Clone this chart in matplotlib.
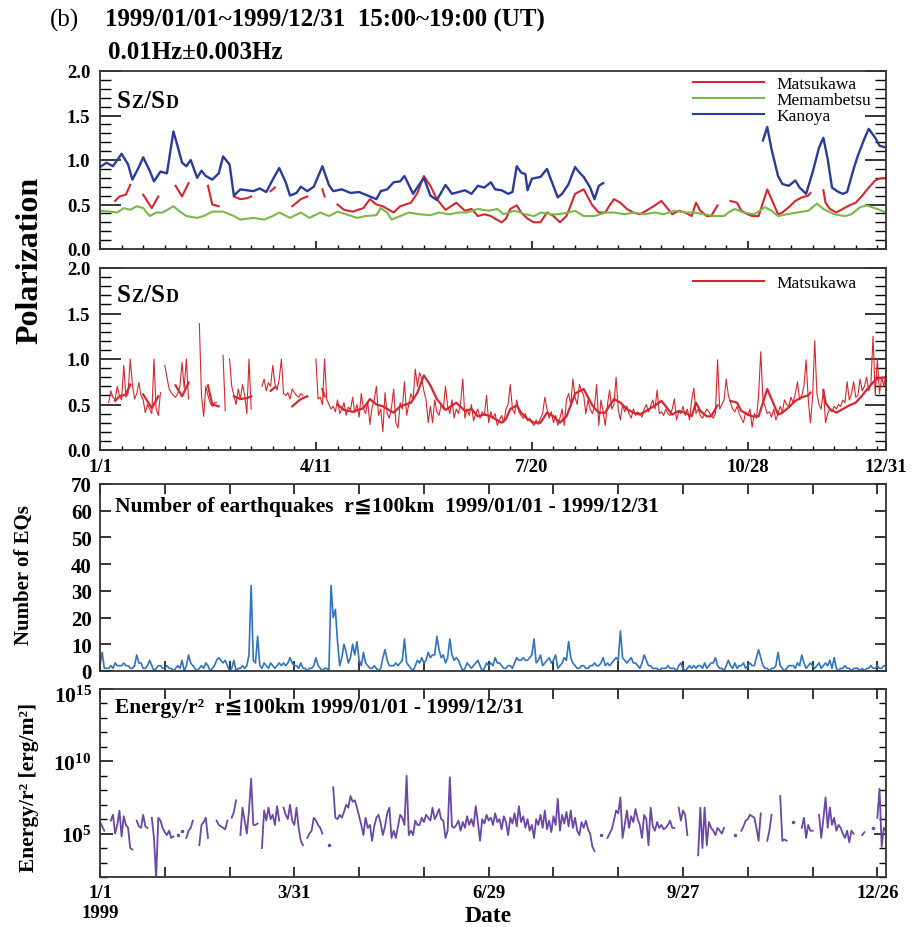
import numpy as np
import matplotlib
matplotlib.use("Agg")
import matplotlib.pyplot as plt
from matplotlib.lines import Line2D
from matplotlib.transforms import offset_copy
from matplotlib.ticker import FixedLocator, NullFormatter, FuncFormatter

nan = np.nan

# ---------------- data ----------------
# Panel 1: running-mean polarization (day of year, value)
kanoya_days = [0, 3, 6, 10, 13, 15, 18, 20, 23, 25, 28, 31, 34, 36, 38, 40, 42, 45, 47, 49, 52, 55, 57, 60,
               62, 65, 68, 71, 74, 77, 80, 83, 86, 88, 91, 93, 96, 99, 103, 106, 108, 112, 116, 120, 124,
               128, 130, 133, 136, 139, 141, 143, 145, 148, 150, 153, 156, 160, 163, 166, 169, 172, 175,
               178, 181, 183, 186, 189, 191, 193, 195, 197, 198, 200, 204, 207, 209, 212, 214, 217, 220,
               222, 224, 227, 229, 231, 233, 234, 307, 309, 311, 314, 316, 319, 322, 324, 327, 330, 333,
               335, 337, 339, 342, 344, 346, 349, 351, 354, 356, 359, 361, 364]
kanoya_vals = [0.92, 0.97, 0.93, 1.07, 0.95, 0.78, 0.92, 1.03, 0.88, 0.76, 0.87, 0.85, 1.32, 1.15, 0.97, 0.93,
               1.00, 0.80, 0.88, 0.82, 0.78, 0.85, 1.04, 0.95, 0.60, 0.67, 0.66, 0.65, 0.68, 0.64, 0.78, 0.91,
               0.75, 0.60, 0.63, 0.70, 0.65, 0.70, 0.93, 0.72, 0.65, 0.67, 0.63, 0.64, 0.60, 0.56, 0.65, 0.67,
               0.75, 0.76, 0.82, 0.72, 0.62, 0.73, 0.80, 0.60, 0.55, 0.72, 0.62, 0.64, 0.66, 0.62, 0.71, 0.69,
               0.75, 0.67, 0.66, 0.62, 0.64, 0.93, 0.86, 0.84, 0.66, 0.79, 0.81, 0.90, 0.77, 0.58, 0.62, 0.73,
               0.92, 0.86, 0.81, 0.69, 0.56, 0.71, 0.74, nan, 1.22, 1.37, 1.12, 0.82, 0.73, 0.71, 0.77, 0.69,
               0.62, 0.86, 1.14, 1.25, 1.01, 0.69, 0.64, 0.62, 0.64, 0.90, 1.05, 1.24, 1.35, 1.25, 1.16, 1.14]

matsu_days = [7, 9, 12, 14, 17, 20, 24, 27, 30, 35, 38, 41, 45, 50, 52, 55, 58, 62, 65, 68, 70, 74, 79, 81, 85,
              89, 93, 96, 99, 103, 104, 107, 110, 113, 117, 122, 125, 128, 131, 136, 139, 144, 147, 150, 153,
              156, 160, 165, 169, 172, 175, 178, 181, 183, 186, 188, 190, 193, 195, 198, 201, 204, 207, 210,
              213, 216, 218, 220, 224, 226, 228, 231, 234, 236, 238, 241, 244, 247, 250, 253, 257, 260, 263,
              265, 268, 271, 274, 276, 278, 281, 283, 286, 289, 292, 295, 297, 300, 302, 305, 307, 309, 311,
              314, 316, 319, 322, 325, 328, 329, 332, 335, 336, 338, 341, 344, 347, 350, 353, 356, 359, 361, 364]
matsu_vals = [0.54, 0.59, 0.61, 0.72, nan, 0.61, 0.46, 0.59, nan, 0.71, 0.59, 0.74, nan, 0.71, 0.50, 0.48, nan,
              0.59, 0.56, 0.57, 0.59, nan, 0.65, 0.69, nan, 0.48, 0.56, 0.59, nan, 0.67, 0.59, nan,
              0.50, 0.44, 0.42, 0.46, 0.56, 0.50, 0.48, 0.41, 0.48, 0.52, 0.63, 0.82, 0.71, 0.56, 0.44, 0.52,
              0.43, 0.45, 0.37, 0.39, 0.37, 0.34, 0.30, 0.34, 0.45, 0.49, 0.41, 0.34, 0.30, 0.30, 0.41, 0.37,
              0.30, 0.37, 0.49, 0.62, 0.67, 0.58, 0.49, 0.41, 0.41, 0.49, 0.56, 0.52, 0.45, 0.41, 0.39, 0.43,
              0.49, 0.54, 0.45, 0.39, 0.43, 0.41, 0.37, 0.52, 0.43, 0.37, 0.37, 0.49, nan, 0.54, 0.52, 0.43,
              0.39, 0.37, 0.37, 0.52, 0.67, 0.56, 0.39, 0.41, 0.47, 0.54, 0.58, 0.60, 0.63, nan, 0.66, 0.52,
              0.45, 0.41, 0.45, 0.49, 0.52, 0.60, 0.69, 0.77, 0.79, 0.80]

memam_days = [0, 5, 8, 11, 14, 17, 20, 23, 26, 29, 34, 37, 40, 45, 48, 52, 57, 62, 65, 71, 76, 80, 83, 88, 93,
              97, 102, 106, 110, 114, 119, 123, 128, 130, 133, 135, 139, 143, 148, 153, 157, 162, 166, 170,
              175, 180, 184, 187, 192, 197, 201, 204, 209, 212, 217, 220, 224, 229, 234, 238, 243, 247, 252,
              257, 261, 266, 271, 275, 280, 284, 289, 291, 294, 298, 303, 308, 311, 314, 318, 323, 328, 332,
              335, 340, 345, 348, 352, 355, 360, 364]
memam_vals = [0.43, 0.42, 0.41, 0.46, 0.44, 0.48, 0.46, 0.37, 0.41, 0.41, 0.48, 0.42, 0.37, 0.35, 0.37, 0.42,
              0.42, 0.37, 0.33, 0.35, 0.33, 0.37, 0.41, 0.35, 0.41, 0.35, 0.41, 0.37, 0.42, 0.39, 0.35, 0.37,
              0.38, 0.46, 0.41, 0.33, 0.37, 0.41, 0.39, 0.38, 0.41, 0.39, 0.41, 0.41, 0.45, 0.43, 0.45, 0.39,
              0.43, 0.39, 0.37, 0.41, 0.39, 0.39, 0.41, 0.43, 0.37, 0.37, 0.41, 0.41, 0.39, 0.41, 0.39, 0.41,
              0.39, 0.43, 0.41, 0.41, 0.39, 0.37, 0.37, 0.41, 0.45, 0.41, 0.39, 0.47, 0.43, 0.37, 0.39, 0.41,
              0.43, 0.51, 0.45, 0.39, 0.37, 0.39, 0.47, 0.49, 0.45, 0.41]

# Panel 2: daily Matsukawa polarization (day 0 .. 364)
matsu_daily = [
    nan, nan, nan, nan, 0.52, 0.65, 0.58, 0.55, 0.70, 0.60,
    0.55, 0.93, 0.58, 0.62, 1.00, 0.72, 0.56, 0.62, 0.74, 0.60,
    0.55, 0.41, 0.50, 0.45, 0.40, 1.00, 0.45, 0.38, 0.63, nan,
    0.93, 0.80, 0.67, 0.63, 0.60, 0.58, 0.62, 0.70, 0.96, 0.68,
    1.00, 0.56, nan, nan, nan, nan, 1.39, 0.60, 0.37, 0.70,
    0.60, 0.52, 0.48, 0.52, 0.52, nan, nan, 1.04, 0.43, nan,
    1.00, 0.70, 0.60, 0.50, 0.67, 0.56, 0.72, 0.60, 0.40, 1.00,
    0.45, nan, nan, nan, nan, 0.70, 0.78, 0.65, 0.74, 0.70,
    0.93, 0.73, 0.66, 0.78, 1.00, 0.62, 0.60, 0.63, 0.56, 0.67,
    0.63, 0.60, 0.58, 0.62, 0.60, nan, nan, nan, nan, nan,
    1.00, 0.56, 0.58, 0.50, 1.00, 0.56, 0.50, 0.45,
    0.48, 0.42, 0.55, 0.40, 0.45, 0.52, 0.38, 0.47, 0.44, 0.58,
    0.41, 0.50, 0.36, 0.62, 0.45, 0.40, 0.53, 0.28, 0.47, 0.55,
    0.70, 0.38, 0.45, 0.20, 0.63, 0.40, 0.35, 0.47, 0.67, 0.30,
    0.24, 0.52, 0.45, 0.75, 0.38, 0.50, 0.62, 0.55, 0.89, 0.70,
    0.85, 0.78, 0.65, 0.55, 0.30, 0.48, 0.30, 0.55, 0.42, 0.38,
    0.50, 0.45, 0.70, 0.48, 0.40, 0.55, 0.35, 0.45, 0.40, 0.52,
    0.78, 0.35, 0.45, 0.38, 0.50, 0.32, 0.40, 0.45, 0.35, 0.42,
    0.38, 0.60, 0.30, 0.42, 0.35, 0.40, 0.27, 0.33, 0.38, 0.30,
    0.45, 0.50, 0.72, 0.45, 0.40, 0.55, 0.42, 0.38, 0.35, 0.40,
    0.32, 0.35, 0.30, 0.27, 0.33, 0.28, 0.35, 0.40, 0.58, 0.45,
    0.35, 0.42, 0.30, 0.38, 0.27, 0.35, 0.45, 0.27, 0.55, 0.62,
    0.50, 0.78, 0.58, 0.50, 0.72, 0.65, 0.60, 0.40, 0.55, 0.45,
    0.40, 0.48, 0.72, 0.27, 0.55, 0.42, 0.27, 0.50, 0.66, 0.45,
    0.50, 0.80, 0.45, 0.33, 0.50, 0.42, 0.48, 0.40, 0.35, 0.45,
    0.38, 0.42, 0.40, 0.36, 0.45, 0.50, 0.42, 0.48, 0.55, 0.45,
    0.66, 0.40, 0.42, 0.38, 0.45, 0.40, 0.38, 0.45, 0.56, 0.33,
    0.42, 0.40, 0.48, 0.38, 0.45, 0.33, 0.55, 0.68, 0.40, 0.45,
    0.38, 0.35, 0.40, 0.45, 0.42, 0.38, 0.35, 0.40, 0.99, 0.45,
    0.50, 0.55, 0.78, 0.60, 0.52, 0.45, 0.42, 0.48, 0.40, 0.35,
    0.30, 0.42, 0.38, 0.45, 0.25, 0.40, 0.35, 0.60, 1.08, 0.55,
    0.48, 0.40, 0.42, 0.36, 0.45, 0.33, 0.40, 0.48, 0.42, 0.55,
    0.50, 0.48, 0.58, 0.52, 0.62, 0.75, 0.55, 0.60, 0.70, 0.99,
    0.55, 0.30, 0.58, 1.20, 0.62, 0.50, 0.45, 0.66, 0.30, 0.40,
    0.45, 0.42, 0.48, 0.45, 0.50, 0.48, 0.55, 0.52, 0.75, 0.55,
    0.62, 0.75, 0.58, 0.60, 0.78, 0.65, 0.70, 0.80, 0.65, 0.72,
    1.25, 0.60, 1.00, 0.62, 0.80, 0.70, 0.85]

# Panel 3: daily number of earthquakes (r <= 100 km)
eq_counts = [
    2, 7, 1, 1, 1, 2, 1, 3, 2, 2,   2, 3, 2, 2, 1, 1, 2, 6, 3, 3,
    1, 1, 2, 4, 2, 0, 1, 2, 2, 1,   1, 2, 1, 1, 0, 1, 2, 1, 4, 0,
    2, 6, 3, 2, 1, 0, 1, 2, 1, 3,   2, 0, 1, 2, 4, 5, 4, 3, 4, 2,
    0, 1, 4, 0, 1, 1, 2, 1, 2, 6,   32, 4, 3, 13, 2, 1, 3, 2, 1, 3,
    2, 1, 2, 3, 2, 3, 2, 3, 5, 3,   2, 2, 1, 3, 1, 1, 0, 1, 1, 2,
    5, 2, 1, 0, 1, 1, 0, 32, 20, 23,   11, 2, 5, 10, 7, 3, 5, 10, 6, 11,
    4, 2, 7, 3, 2, 1, 1, 2, 1, 0,   1, 5, 8, 4, 2, 2, 2, 3, 2, 3,
    4, 12, 3, 2, 1, 0, 2, 4, 3, 5,   3, 4, 7, 5, 6, 6, 13, 8, 5, 6,
    3, 5, 12, 6, 4, 5, 4, 2, 0, 1,   3, 2, 1, 2, 3, 4, 2, 0, 1, 3,
    2, 3, 2, 5, 3, 3, 2, 1, 1, 2,   2, 1, 3, 5, 4, 4, 5, 4, 4, 5,
    6, 12, 3, 4, 6, 2, 3, 4, 5, 3,   4, 6, 1, 2, 3, 5, 4, 11, 5, 3,
    2, 1, 1, 2, 2, 1, 1, 2, 2, 3,   2, 2, 3, 5, 2, 3, 2, 3, 4, 5,
    4, 15, 5, 4, 3, 4, 5, 3, 3, 2,   1, 3, 6, 4, 2, 2, 1, 1, 1, 0,
    1, 1, 1, 2, 1, 1, 1, 0, 2, 3,   1, 0, 1, 2, 1, 2, 1, 2, 2, 1,
    3, 1, 2, 3, 3, 5, 2, 1, 1, 0,   2, 4, 2, 1, 3, 1, 2, 2, 3, 1,
    2, 3, 2, 2, 5, 8, 5, 2, 1, 1,   0, 1, 1, 2, 7, 2, 1, 0, 1, 2,
    2, 2, 1, 3, 2, 6, 3, 1, 2, 3,   2, 1, 2, 3, 1, 2, 3, 2, 4, 1,
    5, 1, 0, 1, 1, 2, 1, 1, 0, 1,   1, 1, 0, 1, 0, 1, 1, 2, 1, 1,
    2, 1, 1, 2, 2]

# Panel 4: daily log10(Energy/r^2) [erg/m^2]
energy_log10 = [
    5.8, 5.5, 5.2, nan, nan, 5.9, 6.3, 5.0, 5.6, 6.6,   4.8, 6.2, 5.6, 5.4, 4.0, 3.9, nan, 5.9, 5.5, 5.4,
    6.3, 5.5, 5.4, nan, 6.1, 4.7, 1.9, 6.1, 5.9, 5.4,   5.1, 4.9, 5.2, 4.7, 4.8, nan, 4.9, nan, 5.2, nan,
    4.7, 5.2, 5.4, 5.9, nan, nan, 4.2, 5.6, 5.8, 6.1,   4.7, nan, nan, nan, 5.9, 5.6, 5.5, 5.4, 5.3, 5.9,
    nan, 6.1, 6.5, 7.3, nan, 4.9, 6.8, 5.9, 5.0, 6.6,   8.8, 5.6, 5.6, 5.7, nan, 4.0, 6.6, 5.9, 6.8, 6.0,
    6.3, 5.6, 6.9, 5.9, nan, 6.8, 6.3, 6.0, 7.0, 5.9,   5.6, 6.8, 5.4, 4.5, 4.2, nan, 4.7, 5.0, 5.2, 6.1,
    5.9, 5.6, 5.4, 5.0, nan, nan, 4.2, nan, 8.2, 6.1,   6.0, 6.3, 6.1, 6.5, 7.0, 6.8, 7.6, 7.2, 7.3, 6.8,
    6.2, 5.6, 4.9, 6.1, 5.4, 5.6, 4.5, 5.5, 6.1, 6.3,   5.7, 4.9, 5.5, 6.4, 6.8, 4.7, 5.2, 4.7, 5.5, 6.3,
    6.1, 5.6, 9.0, 4.9, 5.2, 4.9, 5.9, 5.6, 5.6, 6.1,   5.8, 6.3, 6.1, 5.9, 6.8, 6.0, 6.3, 6.7, 6.0, 5.9,
    4.7, 5.2, 8.9, 5.5, 5.4, 5.6, 5.9, 5.2, 5.8, 5.4,   6.2, 5.6, 6.0, 5.5, 6.9, 5.8, 4.5, 6.0, 5.7, 6.3,
    5.9, 6.1, 5.6, 6.4, 5.8, 6.0, 5.3, 6.2, 5.8, 4.9,   6.1, 5.7, 6.4, 5.5, 6.9, 5.8, 6.2, 5.4, 6.0, 5.2,
    5.6, 4.7, 6.0, 5.6, 6.3, 5.4, 6.6, 5.3, 5.9, 5.1,   6.2, 5.6, 7.4, 5.2, 6.3, 5.7, 6.5, 5.5, 6.6, 5.4,
    6.1, 5.2, 4.9, 5.8, 5.4, 5.9, 5.3, 5.0, 4.1, 3.8,   nan, nan, 4.9, nan, nan, 4.7, 5.0, 5.3, 5.9, 6.6,
    6.4, 7.5, 4.7, 5.6, 6.6, 5.4, 6.2, 5.8, 6.7, 6.0,   5.6, 4.7, 6.3, 6.0, 4.2, 6.8, 5.5, 5.2, 5.8, 5.4,
    5.6, 5.3, 5.4, 5.6, 5.9, 5.4, 5.4, nan, 6.8, 5.9,   6.6, 6.3, 4.9, nan, nan, nan, nan, 3.5, 6.8, 4.0,
    6.8, 4.2, 5.8, 5.4, 5.2, 4.9, 5.4, 5.2, 5.0, 5.4,   nan, nan, nan, nan, 4.9, nan, nan, 5.2, 5.5, 5.9,
    6.0, 6.3, 6.2, 6.1, 5.4, 4.5, 6.4, nan, nan, 4.5,   5.2, 6.3, nan, nan, nan, 7.6, 4.5, 4.6, 4.5, nan,
    nan, 5.8, nan, nan, nan, 5.4, 6.1, 4.7, 5.6, 5.2,   5.2, nan, nan, 6.3, 4.7, 6.0, 7.5, 5.4, 6.8, 5.6,
    6.1, 5.2, 5.6, 5.4, 5.0, 4.7, 5.2, 4.4, 5.2, 5.0,   nan, nan, nan, 4.9, 5.1, nan, nan, nan, 5.4, nan,
    6.1, 8.1, 4.1, 5.4, 5.2]

pol_tick_days = [0, 100, 200, 300, 364]
pol_tick_labels = ["1/1", "4/11", "7/20", "10/28", "12/31"]
eq_tick_days = list(range(0, 361, 30))
eq_tick_labels = ["1/1\n1999", "", "", "3/31", "", "", "6/29", "", "", "9/27", "", "", "12/26"]
energy_major_exps = [5, 10, 15]

# ---------------- style ----------------
SERIF = ["Liberation Serif", "DejaVu Serif", "DejaVu Sans"]
plt.rcParams["font.family"] = SERIF
plt.rcParams["mathtext.fontset"] = "custom"
plt.rcParams["mathtext.rm"] = "Liberation Serif:bold"
plt.rcParams["mathtext.bf"] = "Liberation Serif:bold"
plt.rcParams["mathtext.it"] = "Liberation Serif:bold:italic"

RED = "#d6272e"
GREEN = "#79b84a"
BLUE = "#2b3b9c"
EQBLUE = "#2f74c2"
PURPLE = "#6a47a8"
TICK_FS = 13.5

W, H = 916, 928
fig = plt.figure(figsize=(W / 100, H / 100), dpi=100)


def ax_rect(left, top, right, bottom):
    return [left / W, 1 - bottom / H, (right - left) / W, (bottom - top) / H]


ax1 = fig.add_axes(ax_rect(100, 72, 886, 250))
ax2 = fig.add_axes(ax_rect(100, 269, 886, 451))
ax3 = fig.add_axes(ax_rect(100, 485, 886, 672))
ax4 = fig.add_axes(ax_rect(100, 690, 886, 878))

for ax in (ax1, ax2, ax3, ax4):
    for s in ax.spines.values():
        s.set_linewidth(1.3)
        s.set_color("#333333")
    ax.set_xlim(0, 364)

days = np.arange(365)

# ---- panel 1 ----
ax1.plot(matsu_days, matsu_vals, color=RED, lw=1.5)
ax1.plot(memam_days, memam_vals, color=GREEN, lw=1.5)
ax1.plot(kanoya_days, kanoya_vals, color=BLUE, lw=1.7)

# ---- panel 2 ----
md = np.array(matsu_daily, dtype=float)
ax2.plot(days, md, color=RED, lw=0.8)
iso = np.isfinite(md) & ~np.isfinite(np.r_[nan, md[:-1]]) & ~np.isfinite(np.r_[md[1:], nan])
ax2.plot(days[iso], md[iso], ".", color=RED, ms=2)
ax2.plot(matsu_days, matsu_vals, color=RED, lw=1.6)

for ax in (ax1, ax2):
    ax.set_ylim(0, 2.0)
    ax.yaxis.set_major_locator(FixedLocator([0, 0.5, 1.0, 1.5, 2.0]))
    ax.yaxis.set_minor_locator(FixedLocator(np.arange(0, 2.01, 0.1)))
    ax.yaxis.set_major_formatter(FuncFormatter(lambda v, p: f"{v:.1f}"))
    ax.xaxis.set_major_locator(FixedLocator(pol_tick_days))
    ax.xaxis.set_minor_locator(FixedLocator(np.arange(10, 364, 10)))
    ax.tick_params(axis="y", which="major", direction="in", length=15, width=1.1,
                   left=True, right=True, labelsize=TICK_FS, pad=7)
    ax.tick_params(axis="y", which="minor", direction="in", length=8, width=1.0,
                   left=True, right=True)
    ax.tick_params(axis="x", which="major", direction="in", length=6, width=1.1,
                   bottom=True, top=False, labelsize=TICK_FS, pad=6)
    ax.tick_params(axis="x", which="minor", direction="in", length=3, width=1.0,
                   bottom=True, top=False)
    for lab in ax.get_yticklabels():
        lab.set_fontweight("bold")

ax1.set_xticklabels([])
ax2.set_xticklabels(pol_tick_labels, fontweight="bold")

leg_font = {"family": SERIF, "size": 12.5}
h1 = [Line2D([], [], color=c, lw=1.5) for c in (RED, GREEN, BLUE)]
ax1.legend(h1, ["Matsukawa", "Memambetsu", "Kanoya"], loc="upper left",
           bbox_to_anchor=(0.754, 0.975), frameon=False, handlelength=4.1, handletextpad=0.7,
           labelspacing=0.0, borderpad=0, borderaxespad=0, prop=leg_font)
ax2.legend([Line2D([], [], color=RED, lw=1.5)], ["Matsukawa"], loc="upper left",
           bbox_to_anchor=(0.754, 0.96), frameon=False, handlelength=4.1, handletextpad=0.7,
           borderpad=0, borderaxespad=0, prop=leg_font)


# Sz/SD label with small caps
def sz_sd(ax, x, y):
    renderer = fig.canvas.get_renderer()
    parts = [("S", 18), ("Z", 13), ("/", 18), ("S", 18), ("D", 13)]
    dx = 0.0
    for txt, fs in parts:
        tr = offset_copy(ax.transAxes, fig=fig, x=dx, y=0, units="dots")
        t = ax.text(x, y, txt, transform=tr, fontsize=fs, fontweight="bold",
                    va="baseline", ha="left", family=SERIF)
        dx += t.get_window_extent(renderer).width + 0.5


sz_sd(ax1, 0.021, 0.798)
sz_sd(ax2, 0.021, 0.819)

# ---- panel 3 ----
ax3.plot(days, eq_counts, color=EQBLUE, lw=1.2)
ax3.set_ylim(0, 70)
ax3.yaxis.set_major_locator(FixedLocator(range(0, 71, 10)))
ax3.xaxis.set_major_locator(FixedLocator(eq_tick_days))
ax3.tick_params(axis="y", direction="in", length=8, width=1.1, left=True, right=True,
                labelsize=TICK_FS + 1.5, pad=6)
ax3.tick_params(axis="x", direction="in", length=7, width=1.1, top=True, bottom=True,
                labelbottom=False)
for lab in ax3.get_yticklabels():
    lab.set_fontweight("bold")
ax3.text(0.019, 0.856, "Number of earthquakes  r\u2266100km  1999/01/01 - 1999/12/31",
         transform=ax3.transAxes, fontsize=15.5, fontweight="bold", va="baseline", family=SERIF)

# ---- panel 4 ----
el = np.array(energy_log10, dtype=float)
ev = 10.0 ** el
ax4.plot(days, ev, color=PURPLE, lw=1.3)
iso4 = np.isfinite(el) & ~np.isfinite(np.r_[nan, el[:-1]]) & ~np.isfinite(np.r_[el[1:], nan])
ax4.plot(days[iso4], ev[iso4], ".", color=PURPLE, ms=3)
ax4.set_yscale("log")
ax4.set_ylim(1e2, 1e15)
ax4.yaxis.set_major_locator(FixedLocator([10.0 ** e for e in energy_major_exps]))
ax4.yaxis.set_minor_locator(FixedLocator([10.0 ** k for k in range(2, 16)]))
ax4.yaxis.set_minor_formatter(NullFormatter())
top_exp = max(energy_major_exps)


def energy_fmt(v, p):
    e = int(round(np.log10(v)))
    return "" if e == top_exp else r"$\mathrm{10^{%d}}$" % e


ax4.yaxis.set_major_formatter(FuncFormatter(energy_fmt))
# top label placed just below the axis top (as in the original) to keep it clear of panel 3
ax4.text(0, 1.0, r"$\mathrm{10^{%d}}$" % top_exp,
         transform=offset_copy(ax4.transAxes, fig=fig, x=-8, y=3, units="dots"),
         ha="right", va="top", fontsize=TICK_FS + 2)
ax4.xaxis.set_major_locator(FixedLocator(eq_tick_days))
ax4.set_xticklabels(eq_tick_labels, fontweight="bold", fontsize=TICK_FS)
ax4.tick_params(axis="y", which="major", direction="in", length=9, width=1.1, left=True,
                right=True, labelsize=TICK_FS + 2, pad=6)
ax4.tick_params(axis="y", which="minor", direction="in", length=5, width=1.0, left=True, right=True)
ax4.tick_params(axis="x", direction="in", length=7, width=1.1, top=True, bottom=True, pad=5)
ax4.text(0.019, 0.878, "Energy/r\u00b2  r\u2266100km 1999/01/01 - 1999/12/31",
         transform=ax4.transAxes, fontsize=15.5, fontweight="bold", va="baseline", family=SERIF)

# ---- figure texts ----
fig.text(50 / W, 1 - 27 / H, "(b)", fontsize=18, va="baseline", ha="left", family=SERIF)
fig.text(105 / W, 1 - 27 / H, "1999/01/01~1999/12/31  15:00~19:00 (UT)", fontsize=18,
         fontweight="bold", va="baseline", ha="left", family=SERIF)
fig.text(108 / W, 1 - 59 / H, "0.01Hz\u00b10.003Hz", fontsize=18, fontweight="bold",
         va="baseline", ha="left", family=SERIF)
fig.text(30 / W, 1 - 260 / H, "Polarization", fontsize=23, fontweight="bold", rotation=90,
         ha="center", va="center", family=SERIF)
fig.text(24 / W, 1 - 575 / H, "Number of EQs", fontsize=15, fontweight="bold", rotation=90,
         ha="center", va="center", family=SERIF)
fig.text(29 / W, 1 - 787 / H, "Energy/r\u00b2 [erg/m\u00b2]", fontsize=15.5, fontweight="bold",
         rotation=90, ha="center", va="center", family=SERIF)
fig.text(488 / W, 1 - 922 / H, "Date", fontsize=17, fontweight="bold", ha="center",
         va="baseline", family=SERIF)

fig.savefig("out.png", dpi=100)
